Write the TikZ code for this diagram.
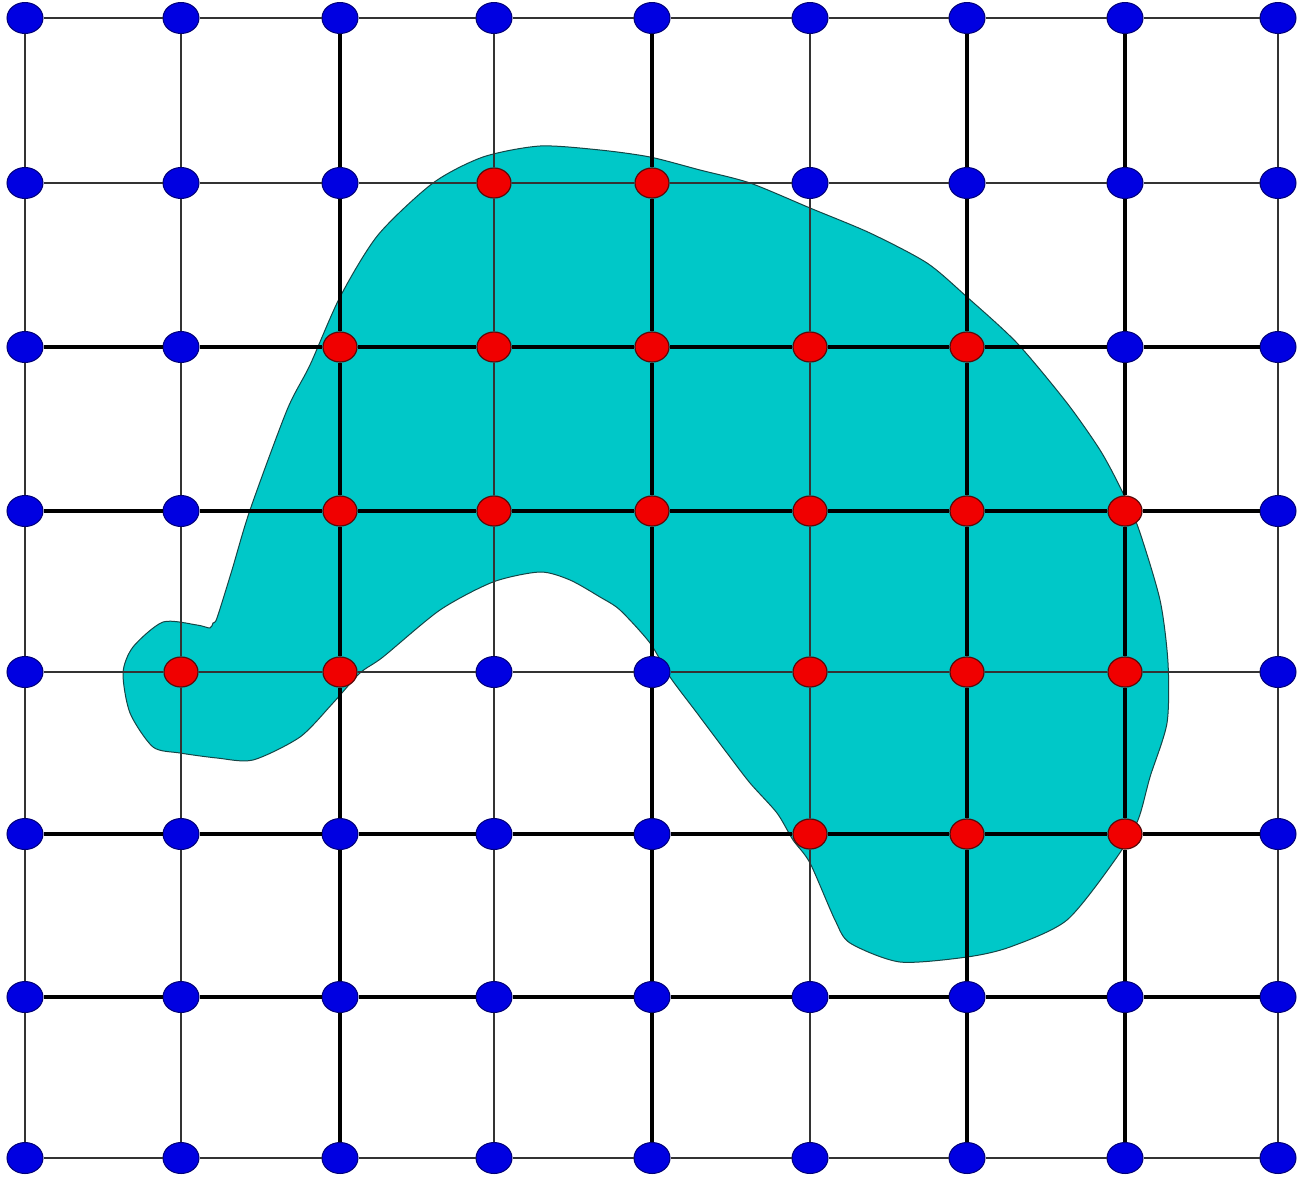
\documentclass[tikz,border=0pt]{standalone}
\usetikzlibrary{shapes.geometric}
\definecolor{blobfill}{RGB}{0,200,200}
\definecolor{blobline}{RGB}{20,70,70}
\definecolor{dotblue}{RGB}{0,0,225}
\definecolor{dotblueedge}{RGB}{0,0,120}
\definecolor{dotred}{RGB}{240,0,0}
\definecolor{dotrededge}{RGB}{90,10,10}
\tikzset{
  dotb/.style={ellipse, fill=dotblue, draw=dotblueedge, line width=1pt, minimum width=36pt, minimum height=31pt, inner sep=0pt},
  dotr/.style={ellipse, fill=dotred, draw=dotrededge, line width=1.2pt, minimum width=34pt, minimum height=30pt, inner sep=0pt},
  gthin/.style={line width=1.9pt, black!80},
  gthick/.style={line width=3.1pt, black},
  blob/.style={fill=blobfill, draw=blobline, line width=1pt}
}
\begin{document}
\begin{tikzpicture}[x=1pt, y=-1pt]
\useasboundingbox[fill=white] (0,0) rectangle (1300,1181);
% blob
\draw[blob] plot[smooth cycle, tension=0.45] coordinates {
(217,618) (232,570) (250,510) (287,410) (310,365) (340,297)
(378,235) (433,183) (483,157) (540,146) (600,150) (650,157) (700,170) (750,183)
(810,208) (870,233) (927,263) (967,297) (1017,343) (1067,403) (1100,450) (1120,487)
(1138,527) (1160,600) (1168,663) (1167,723) (1150,777) (1138,820) (1117,857)
(1067,920) (1010,947) (967,957) (900,962) (850,943) (835,920) (810,863) (793,840)
(777,813) (750,783) (727,753) (697,713) (670,677) (650,643) (620,610) (600,597)
(570,580) (540,572) (493,582) (440,610) (383,657) (360,673) (333,703) (300,737)
(253,760) (217,758) (180,753) (153,747) (130,713) (123,673) (133,647) (163,622)
(197,625) (210,628) (213,623)};
% dots
\foreach \c/\x/\t in {0/25/b,1/181/b,2/340/b,3/494/b,4/652/b,5/810/b,6/967/b,7/1125/b,8/1278/b}
  \node[dot\t] (n0\c) at (\x,18) {};
\foreach \c/\x/\t in {0/25/b,1/181/b,2/340/b,3/494/r,4/652/r,5/810/b,6/967/b,7/1125/b,8/1278/b}
  \node[dot\t] (n1\c) at (\x,183) {};
\foreach \c/\x/\t in {0/25/b,1/181/b,2/340/r,3/494/r,4/652/r,5/810/r,6/967/r,7/1125/b,8/1278/b}
  \node[dot\t] (n2\c) at (\x,347) {};
\foreach \c/\x/\t in {0/25/b,1/181/b,2/340/r,3/494/r,4/652/r,5/810/r,6/967/r,7/1125/r,8/1278/b}
  \node[dot\t] (n3\c) at (\x,511) {};
\foreach \c/\x/\t in {0/25/b,1/181/r,2/340/r,3/494/b,4/652/b,5/810/r,6/967/r,7/1125/r,8/1278/b}
  \node[dot\t] (n4\c) at (\x,672) {};
\foreach \c/\x/\t in {0/25/b,1/181/b,2/340/b,3/494/b,4/652/b,5/810/r,6/967/r,7/1125/r,8/1278/b}
  \node[dot\t] (n5\c) at (\x,834) {};
\foreach \c/\x/\t in {0/25/b,1/181/b,2/340/b,3/494/b,4/652/b,5/810/b,6/967/b,7/1125/b,8/1278/b}
  \node[dot\t] (n6\c) at (\x,997) {};
\foreach \c/\x/\t in {0/25/b,1/181/b,2/340/b,3/494/b,4/652/b,5/810/b,6/967/b,7/1125/b,8/1278/b}
  \node[dot\t] (n7\c) at (\x,1158) {};
% horizontal grid lines
\foreach \r/\w in {0/gthin,1/gthin,2/gthick,3/gthick,4/gthin,5/gthick,6/gthick,7/gthin}
  \draw[\w] (n\r0) -- (n\r1) -- (n\r2) -- (n\r3) -- (n\r4) -- (n\r5) -- (n\r6) -- (n\r7) -- (n\r8);
% vertical grid lines
\foreach \c/\w in {0/gthin,1/gthin,2/gthick,3/gthin,4/gthick,5/gthin,6/gthick,7/gthick,8/gthin}
  \draw[\w] (n0\c) -- (n1\c) -- (n2\c) -- (n3\c) -- (n4\c) -- (n5\c) -- (n6\c) -- (n7\c);
\end{tikzpicture}
\end{document}
